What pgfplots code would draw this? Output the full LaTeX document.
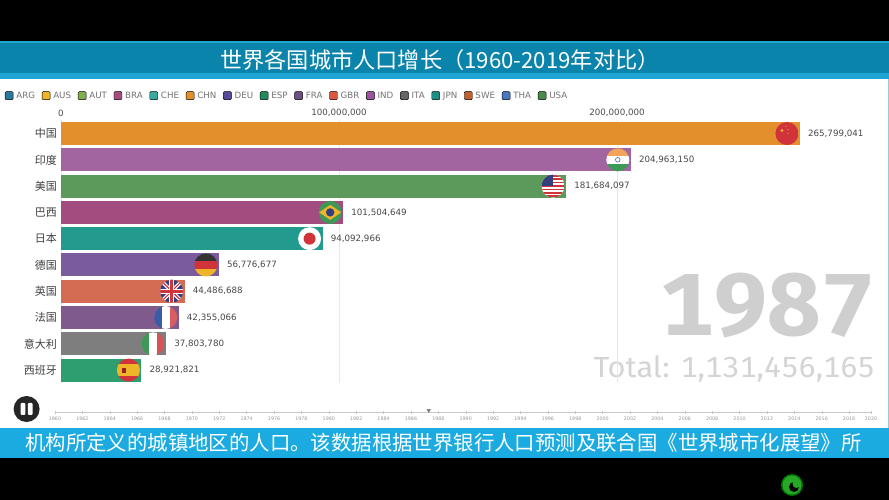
\documentclass[border=0pt]{standalone}
\usepackage{pgfplots}
\pgfplotsset{compat=1.18}
\usepackage{fontspec}
\setmainfont{DejaVu Sans}
\newfontfamily\cjk{Noto Sans CJK SC}
\newfontfamily\fira[Numbers=Monospaced]{Fira Sans}
\newcommand{\fs}[1]{\fontsize{#1}{#1}\selectfont}
% bars
\definecolor{cCHN}{HTML}{E38F2C}
\definecolor{cIND}{HTML}{A3659F}
\definecolor{cUSA}{HTML}{5B9A5A}
\definecolor{cBRA}{HTML}{A24C80}
\definecolor{cJPN}{HTML}{229A8E}
\definecolor{cDEU}{HTML}{7A5B9E}
\definecolor{cGBR}{HTML}{D46C53}
\definecolor{cFRA}{HTML}{7F5A8C}
\definecolor{cITA}{HTML}{7E7E7E}
\definecolor{cESP}{HTML}{2F9E6E}
% bands
\definecolor{header}{HTML}{0B84AB}
\definecolor{strip}{HTML}{1FA5D3}
\definecolor{caption}{HTML}{1CABE0}
% flag colours
\definecolor{fRed}{HTML}{D0343A}
\definecolor{fBlue}{HTML}{3A5CA8}
\definecolor{fNavy}{HTML}{34407E}
\definecolor{fGreen}{HTML}{3C9A56}
\definecolor{fGold}{HTML}{F0B428}
\definecolor{fOrange}{HTML}{F2A45C}
% flag sits at the end of its bar
\newcommand{\flag}[3]{%
  \pgfplotsextra{\begin{scope}[shift={(axis cs:#1,#2)},xshift=-13pt]
    \clip (0pt,0pt) circle (11.5pt);
    #3
  \end{scope}}}
\newcommand{\band}[5]{\fill[#5] (#1pt,#2pt) rectangle (#3pt,#4pt);}
\begin{document}
\begin{tikzpicture}[x=1pt,y=1pt]
\useasboundingbox (0,0) rectangle (889,500);
\fill[white] (0,0) rectangle (889,500);
\fill[black] (0,458.5) rectangle (889,500);
\fill[black] (0,0) rectangle (889,41.7);
\fill[header] (0,427) rectangle (889,458.5);
\fill[strip] (0,457) rectangle (889,458.5);
\fill[strip] (0,421) rectangle (889,427);
\fill[caption] (0,41.7) rectangle (889,72.3);
\fill[teal!40] (887.5,72.3) rectangle (889,421);
\node[anchor=center,text=white,font=\cjk\fs{22.2}] at (440,440)
  {世界各国城市人口增长（1960-2019年对比）};
\node[anchor=center,text=white,font=\cjk\fs{20.4}] at (443.5,57)
  {机构所定义的城镇地区的人口。该数据根据世界银行人口预测及联合国《世界城市化展望》所};

% year and total behind the bars
\node[anchor=base east,inner sep=0pt,text=black!19,font=\fira\bfseries\fs{88},xscale=1.085,transform shape] at (875,164) {1987};
\node[anchor=base east,inner sep=0pt,text=black!17,font=\fira\fs{29},xscale=1.06,transform shape] at (875,122) {Total: 1,131,456,165};

\begin{axis}[
  at={(61pt,379.6pt)}, anchor=north west,
  scale only axis,
  width=778.4pt, height=262.8pt,
  xmin=0, xmax=280000000,
  ymin=-0.5, ymax=9.5,
  y dir=reverse,
  clip=false,
  xbar, bar width=23pt, bar shift=0pt,
  axis line style={draw=none},
  major tick length=0pt,
  xticklabel pos=upper,
  xtick={0,100000000,200000000},
  xticklabels={0,{100,000,000},{200,000,000}},
  scaled x ticks=false,
  xmajorgrids, grid style={black!9,line width=0.6pt},
  x tick label style={font=\fs{8.7},text=black!70,inner sep=0pt,yshift=4pt},
  ytick={0,...,9},
  yticklabels={中国,印度,美国,巴西,日本,德国,英国,法国,意大利,西班牙},
  y tick label style={font=\cjk\fs{11},text=black!75,inner sep=0pt,xshift=-4pt},
  point meta=explicit symbolic,
  nodes near coords,
  every node near coord/.append style={font=\fs{8.7},text=black!72,anchor=west,inner sep=0pt,xshift=8pt},
  legend image code/.code={\fill[#1,rounded corners=1pt] (0pt,-4pt) rectangle (8pt,4pt);},
  legend columns=-1,
  legend style={
    at={(axis description cs:-0.072,1.094)}, anchor=west,
    draw=none, fill=none, inner sep=0pt, outer sep=0pt,
    font=\fs{8.7}, text=black!55,
    /tikz/every odd column/.append style={column sep=3pt},
    /tikz/every even column/.append style={column sep=6.8pt},
    nodes={inner sep=0pt,outer sep=0pt},
  },
  legend cell align=left,
  legend entries={ARG,AUS,AUT,BRA,CHE,CHN,DEU,ESP,FRA,GBR,IND,ITA,JPN,SWE,THA,USA},
]
\addlegendimage{fill={rgb,255:red,42;green,122;blue,155}}
\addlegendimage{fill={rgb,255:red,240;green,180;blue,41}}
\addlegendimage{fill={rgb,255:red,127;green,176;blue,80}}
\addlegendimage{fill=cBRA}
\addlegendimage{fill={rgb,255:red,55;green,169;blue,160}}
\addlegendimage{fill=cCHN}
\addlegendimage{fill={rgb,255:red,90;green,74;blue,154}}
\addlegendimage{fill={rgb,255:red,30;green,138;blue,94}}
\addlegendimage{fill={rgb,255:red,109;green,79;blue,133}}
\addlegendimage{fill={rgb,255:red,217;green,88;blue,63}}
\addlegendimage{fill={rgb,255:red,160;green,80;blue,160}}
\addlegendimage{fill={rgb,255:red,102;green,102;blue,102}}
\addlegendimage{fill={rgb,255:red,31;green,143;blue,133}}
\addlegendimage{fill={rgb,255:red,192;green,97;blue,46}}
\addlegendimage{fill={rgb,255:red,74;green,120;blue,192}}
\addlegendimage{fill={rgb,255:red,74;green,138;blue,74}}

\addplot[forget plot,fill=cCHN,draw=none] coordinates {(265799041,0) [265,799,041]};
\addplot[forget plot,fill=cIND,draw=none] coordinates {(204963150,1) [204,963,150]};
\addplot[forget plot,fill=cUSA,draw=none] coordinates {(181684097,2) [181,684,097]};
\addplot[forget plot,fill=cBRA,draw=none] coordinates {(101504649,3) [101,504,649]};
\addplot[forget plot,fill=cJPN,draw=none] coordinates {(94092966,4) [94,092,966]};
\addplot[forget plot,fill=cDEU,draw=none] coordinates {(56776677,5) [56,776,677]};
\addplot[forget plot,fill=cGBR,draw=none] coordinates {(44486688,6) [44,486,688]};
\addplot[forget plot,fill=cFRA,draw=none] coordinates {(42355066,7) [42,355,066]};
\addplot[forget plot,fill=cITA,draw=none] coordinates {(37803780,8) [37,803,780]};
\addplot[forget plot,fill=cESP,draw=none] coordinates {(28921821,9) [28,921,821]};

% flags
\flag{265799041}{0}{\fill[fRed] (-12pt,-12pt) rectangle (12pt,12pt);
  \fill[fGold] (-5pt,3pt) circle (1.6pt); \fill[fGold] (-1pt,7pt) circle (.6pt);
  \fill[fGold] (1pt,4pt) circle (.6pt); \fill[fGold] (1pt,0pt) circle (.6pt);}
\flag{204963150}{1}{\band{-12}{3.8}{12}{12}{fOrange}\band{-12}{-3.8}{12}{3.8}{white}\band{-12}{-12}{12}{-3.8}{fGreen}
  \draw[fNavy,line width=.5pt] (0pt,0pt) circle (2.3pt);}
\flag{181684097}{2}{\fill[white] (-12pt,-12pt) rectangle (12pt,12pt);
  \foreach \s in {-11,-7.6,...,11}{\fill[fRed] (-12pt,\s pt) rectangle (12pt,\s pt+1.7pt);}
  \fill[fNavy] (-12pt,0pt) rectangle (0pt,12pt);}
\flag{101504649}{3}{\fill[fGreen] (-12pt,-12pt) rectangle (12pt,12pt);
  \fill[fGold] (-11pt,0pt) -- (0pt,7.5pt) -- (11pt,0pt) -- (0pt,-7.5pt) -- cycle;
  \fill[fNavy] (0pt,0pt) circle (4.2pt);}
\flag{94092966}{4}{\fill[white] (-12pt,-12pt) rectangle (12pt,12pt);
  \fill[fRed] (0pt,0pt) circle (6pt);}
\flag{56776677}{5}{\band{-12}{3.8}{12}{12}{black!80}\band{-12}{-3.8}{12}{3.8}{fRed}\band{-12}{-12}{12}{-3.8}{fGold}}
\flag{44486688}{6}{\fill[fNavy] (-12pt,-12pt) rectangle (12pt,12pt);
  \draw[white,line width=3.5pt] (-12pt,-12pt) -- (12pt,12pt) (-12pt,12pt) -- (12pt,-12pt);
  \draw[fRed,line width=1.2pt] (-12pt,-12pt) -- (12pt,12pt) (-12pt,12pt) -- (12pt,-12pt);
  \draw[white,line width=5pt] (-12pt,0pt) -- (12pt,0pt) (0pt,-12pt) -- (0pt,12pt);
  \draw[fRed,line width=2.6pt] (-12pt,0pt) -- (12pt,0pt) (0pt,-12pt) -- (0pt,12pt);}
\flag{42355066}{7}{\band{-12}{-12}{-4}{12}{fBlue}\band{-4}{-12}{4}{12}{white}\band{4}{-12}{12}{12}{fRed!80!white}}
\flag{37803780}{8}{\band{-12}{-12}{-4}{12}{fGreen}\band{-4}{-12}{4}{12}{white}\band{4}{-12}{12}{12}{fRed!85!white}}
\flag{28921821}{9}{\band{-12}{6}{12}{12}{fRed}\band{-12}{-6}{12}{6}{fGold}\band{-12}{-12}{12}{-6}{fRed}
  \fill[fRed!70!black] (-6pt,-2.5pt) rectangle (-2pt,2.5pt);}
\end{axis}

% year slider
\begin{axis}[
  at={(55pt,87.7pt)}, anchor=south west,
  scale only axis,
  width=816pt, height=2pt,
  xmin=1960, xmax=2019.6,
  ymin=0, ymax=1,
  clip=false,
  axis y line=none,
  axis x line=bottom,
  axis line style={black!22,-,line width=0.5pt},
  tick style={black!22,line width=0.4pt},
  major tick length=2.5pt,
  xtick={1960,1962,1964,1966,1968,1970,1972,1974,1976,1978,1980,1982,1984,1986,1988,1990,1992,1994,1996,1998,2000,2002,2004,2006,2008,2010,2012,2014,2016,2018,2019.6},
  xticklabels={1960,1962,1964,1966,1968,1970,1972,1974,1976,1978,1980,1982,1984,1986,1988,1990,1992,1994,1996,1998,2000,2002,2004,2006,2008,2010,2012,2014,2016,2018,2020},
  x tick label style={font=\fs{4.8},text=black!40,inner sep=0pt,yshift=-3.5pt},
]
\addplot[only marks,mark=triangle*,mark size=2pt,black!55,mark options={rotate=180}] coordinates {(1987.3,1)};
\end{axis}

% pause button
\fill[black!85] (26.6,91) circle (13);
\fill[white,rounded corners=1pt] (20.6,85) rectangle (25.4,97);
\fill[white,rounded corners=1pt] (27.8,85) rectangle (32.6,97);
% logo
\fill[green!45!black] (792,15) circle (11);
\fill[green!60!black!85!white] (792,15) circle (9.5);
\fill[black] (794,13) circle (5);
\fill[green!60!black!85!white] (796.5,16) circle (4);
\end{tikzpicture}
\end{document}
